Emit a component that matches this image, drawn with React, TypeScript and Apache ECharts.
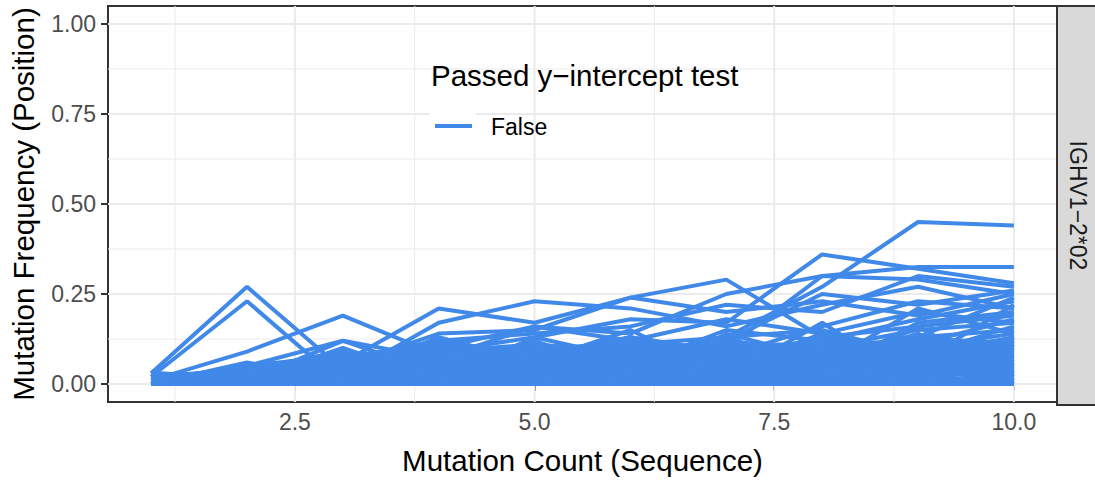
import React, { useEffect, useRef } from "react";
import * as echarts from "echarts";

// Mutation counts (x axis, sequences)
const mutationCounts = [1, 2, 3, 4, 5, 6, 7, 8, 9, 10];

// Per-position mutation frequencies: upper, clearly visible trajectories
const upperPositions: number[][] = [
  [0.03, 0.27, 0.04, 0.02, 0.05, 0.03, 0.02, 0.04, 0.03, 0.05],
  [0.02, 0.23, 0.0, 0.03, 0.02, 0.05, 0.04, 0.02, 0.06, 0.03],
  [0.01, 0.09, 0.19, 0.08, 0.05, 0.1, 0.07, 0.09, 0.12, 0.1],
  [0.0, 0.05, 0.12, 0.07, 0.16, 0.12, 0.18, 0.14, 0.2, 0.17],
  [0.01, 0.03, 0.06, 0.21, 0.17, 0.24, 0.2, 0.23, 0.19, 0.25],
  [0.0, 0.04, 0.02, 0.17, 0.23, 0.21, 0.16, 0.22, 0.27, 0.21],
  [0.01, 0.02, 0.05, 0.14, 0.15, 0.24, 0.29, 0.13, 0.16, 0.19],
  [0.0, 0.01, 0.03, 0.09, 0.13, 0.18, 0.17, 0.36, 0.32, 0.28],
  [0.02, 0.0, 0.04, 0.06, 0.08, 0.11, 0.13, 0.27, 0.45, 0.44],
  [0.0, 0.03, 0.01, 0.05, 0.11, 0.09, 0.1, 0.3, 0.325, 0.325],
  [0.01, 0.05, 0.08, 0.1, 0.16, 0.14, 0.25, 0.3, 0.29, 0.25],
  [0.0, 0.02, 0.07, 0.12, 0.14, 0.16, 0.22, 0.2, 0.3, 0.27],
  [0.0, 0.01, 0.02, 0.04, 0.08, 0.07, 0.12, 0.25, 0.22, 0.26],
  [0.02, 0.04, 0.09, 0.04, 0.06, 0.13, 0.08, 0.16, 0.23, 0.21],
  [0.01, 0.0, 0.03, 0.11, 0.07, 0.05, 0.15, 0.12, 0.18, 0.23],
  [0.0, 0.02, 0.04, 0.02, 0.1, 0.08, 0.06, 0.1, 0.15, 0.17],
  [0.0, 0.03, 0.0, 0.06, 0.03, 0.09, 0.11, 0.08, 0.13, 0.15],
  [0.01, 0.01, 0.05, 0.03, 0.05, 0.06, 0.04, 0.12, 0.1, 0.14],
];

// Per-position mutation frequencies: middle band
const middlePositions: number[][] = [
  [0.0, 0.01, 0.05, 0.09, 0.03, 0.11, 0.06, 0.02, 0.12, 0.05],
  [0.01, 0.03, 0.02, 0.06, 0.1, 0.04, 0.12, 0.09, 0.03, 0.13],
  [0.02, 0.0, 0.07, 0.03, 0.08, 0.13, 0.04, 0.11, 0.09, 0.07],
  [0.0, 0.05, 0.03, 0.11, 0.05, 0.07, 0.1, 0.05, 0.13, 0.11],
  [0.03, 0.02, 0.04, 0.07, 0.11, 0.05, 0.08, 0.12, 0.07, 0.09],
  [0.01, 0.04, 0.09, 0.02, 0.07, 0.12, 0.03, 0.08, 0.11, 0.12],
  [0.0, 0.0, 0.03, 0.08, 0.04, 0.06, 0.11, 0.03, 0.08, 0.06],
  [0.02, 0.03, 0.06, 0.05, 0.12, 0.03, 0.07, 0.1, 0.05, 0.1],
  [0.0, 0.02, 0.01, 0.12, 0.06, 0.09, 0.04, 0.07, 0.1, 0.08],
  [0.01, 0.0, 0.08, 0.04, 0.09, 0.02, 0.09, 0.06, 0.04, 0.11],
  [0.0, 0.04, 0.04, 0.06, 0.03, 0.1, 0.06, 0.09, 0.12, 0.03],
  [0.02, 0.01, 0.02, 0.09, 0.11, 0.08, 0.02, 0.12, 0.06, 0.09],
  [0.01, 0.02, 0.06, 0.01, 0.05, 0.05, 0.1, 0.04, 0.09, 0.12],
  [0.0, 0.05, 0.02, 0.07, 0.08, 0.11, 0.07, 0.13, 0.02, 0.07],
  [0.03, 0.0, 0.05, 0.1, 0.02, 0.04, 0.12, 0.08, 0.11, 0.05],
  [0.0, 0.01, 0.09, 0.05, 0.1, 0.08, 0.05, 0.02, 0.07, 0.1],
  [0.01, 0.03, 0.03, 0.02, 0.07, 0.13, 0.09, 0.06, 0.1, 0.04],
  [0.02, 0.02, 0.0, 0.06, 0.04, 0.02, 0.08, 0.11, 0.04, 0.08],
  [0.0, 0.0, 0.05, 0.04, 0.11, 0.06, 0.03, 0.09, 0.13, 0.02],
  [0.01, 0.04, 0.07, 0.09, 0.01, 0.09, 0.11, 0.05, 0.08, 0.13],
  [0.0, 0.02, 0.03, 0.01, 0.06, 0.03, 0.06, 0.1, 0.05, 0.06],
  [0.02, 0.01, 0.01, 0.05, 0.08, 0.07, 0.13, 0.04, 0.09, 0.1],
  [0.01, 0.0, 0.04, 0.08, 0.02, 0.1, 0.02, 0.07, 0.03, 0.11],
  [0.0, 0.03, 0.06, 0.03, 0.09, 0.01, 0.07, 0.12, 0.1, 0.05],
  [0.03, 0.01, 0.02, 0.07, 0.05, 0.12, 0.04, 0.03, 0.06, 0.09],
  [0.0, 0.02, 0.08, 0.02, 0.03, 0.06, 0.09, 0.08, 0.12, 0.03],
  [0.01, 0.05, 0.01, 0.1, 0.07, 0.04, 0.01, 0.06, 0.02, 0.12],
  [0.0, 0.0, 0.02, 0.04, 0.1, 0.08, 0.1, 0.02, 0.11, 0.07],
  [0.02, 0.03, 0.05, 0.0, 0.04, 0.02, 0.05, 0.13, 0.05, 0.04],
  [0.0, 0.01, 0.0, 0.03, 0.06, 0.11, 0.08, 0.05, 0.01, 0.06],
  [0.01, 0.02, 0.03, 0.06, 0.0, 0.05, 0.03, 0.09, 0.07, 0.02],
];

// Per-position mutation frequencies: dense low band
const lowerPositions: number[][] = [
  [0.0, 0.0, 0.01, 0.0, 0.02, 0.0, 0.01, 0.0, 0.02, 0.01],
  [0.01, 0.0, 0.0, 0.02, 0.0, 0.01, 0.0, 0.02, 0.0, 0.03],
  [0.0, 0.02, 0.0, 0.0, 0.03, 0.02, 0.03, 0.01, 0.04, 0.02],
  [0.02, 0.0, 0.02, 0.01, 0.0, 0.03, 0.02, 0.04, 0.01, 0.05],
  [0.0, 0.01, 0.03, 0.0, 0.01, 0.0, 0.04, 0.03, 0.05, 0.04],
  [0.01, 0.03, 0.0, 0.03, 0.04, 0.01, 0.0, 0.05, 0.03, 0.06],
  [0.0, 0.0, 0.04, 0.05, 0.0, 0.04, 0.05, 0.02, 0.06, 0.07],
  [0.03, 0.01, 0.01, 0.0, 0.05, 0.06, 0.03, 0.0, 0.07, 0.02],
  [0.0, 0.04, 0.02, 0.04, 0.02, 0.02, 0.06, 0.07, 0.0, 0.08],
  [0.01, 0.0, 0.06, 0.02, 0.06, 0.0, 0.01, 0.06, 0.08, 0.09],
  [0.0, 0.05, 0.0, 0.06, 0.01, 0.05, 0.07, 0.03, 0.09, 0.0],
  [0.02, 0.02, 0.01, 0.08, 0.03, 0.03, 0.0, 0.08, 0.04, 0.1],
  [0.0, 0.0, 0.07, 0.01, 0.07, 0.07, 0.08, 0.01, 0.1, 0.04],
  [0.01, 0.01, 0.02, 0.0, 0.09, 0.02, 0.09, 0.09, 0.02, 0.11],
  [0.0, 0.02, 0.08, 0.03, 0.04, 0.08, 0.02, 0.1, 0.11, 0.06],
  [0.03, 0.0, 0.0, 0.07, 0.02, 0.1, 0.1, 0.04, 0.07, 0.12],
  [0.0, 0.03, 0.03, 0.1, 0.0, 0.04, 0.11, 0.11, 0.12, 0.08],
  [0.01, 0.0, 0.01, 0.02, 0.12, 0.01, 0.06, 0.13, 0.05, 0.13],
  [0.02, 0.01, 0.1, 0.01, 0.05, 0.12, 0.03, 0.06, 0.14, 0.0],
  [0.0, 0.02, 0.0, 0.09, 0.01, 0.06, 0.13, 0.15, 0.08, 0.16],
  [0.01, 0.0, 0.05, 0.0, 0.1, 0.11, 0.05, 0.02, 0.16, 0.01],
  [0.0, 0.06, 0.01, 0.05, 0.04, 0.0, 0.14, 0.07, 0.11, 0.18],
  [0.02, 0.0, 0.02, 0.13, 0.06, 0.15, 0.02, 0.17, 0.0, 0.03],
  [0.0, 0.01, 0.12, 0.03, 0.02, 0.03, 0.08, 0.03, 0.17, 0.2],
  [0.01, 0.04, 0.0, 0.01, 0.13, 0.07, 0.04, 0.14, 0.06, 0.22],
  [0.0, 0.0, 0.02, 0.08, 0.0, 0.09, 0.12, 0.0, 0.13, 0.24],
  [0.03, 0.02, 0.0, 0.0, 0.08, 0.02, 0.0, 0.05, 0.21, 0.14],
  [0.0, 0.0, 0.0, 0.0, 0.0, 0.0, 0.0, 0.0, 0.0, 0.0],
  [0.01, 0.01, 0.0, 0.01, 0.01, 0.0, 0.01, 0.01, 0.0, 0.01],
  [0.02, 0.0, 0.01, 0.02, 0.0, 0.02, 0.0, 0.03, 0.02, 0.0],
  [0.0, 0.01, 0.02, 0.0, 0.02, 0.01, 0.02, 0.0, 0.03, 0.04],
  [0.01, 0.02, 0.0, 0.04, 0.01, 0.03, 0.01, 0.04, 0.01, 0.02],
  [0.0, 0.0, 0.01, 0.01, 0.03, 0.0, 0.04, 0.01, 0.03, 0.05],
  [0.01, 0.01, 0.02, 0.0, 0.02, 0.04, 0.01, 0.03, 0.04, 0.01],
  [0.0, 0.02, 0.0, 0.03, 0.01, 0.02, 0.03, 0.0, 0.05, 0.03],
  [0.02, 0.0, 0.03, 0.02, 0.04, 0.01, 0.02, 0.04, 0.02, 0.04],
  [0.0, 0.01, 0.01, 0.04, 0.02, 0.03, 0.0, 0.02, 0.06, 0.02],
  [0.01, 0.0, 0.02, 0.01, 0.05, 0.0, 0.03, 0.05, 0.01, 0.07],
  [0.0, 0.03, 0.04, 0.02, 0.0, 0.05, 0.06, 0.01, 0.04, 0.01],
  [0.02, 0.01, 0.0, 0.05, 0.03, 0.04, 0.02, 0.06, 0.0, 0.03],
  [0.01, 0.02, 0.05, 0.03, 0.06, 0.01, 0.05, 0.03, 0.05, 0.02],
];

const xTickValues = [2.5, 5, 7.5, 10];
const xMinorValues = [1.25, 3.75, 6.25, 8.75];
const yTickValues = [0, 0.25, 0.5, 0.75, 1];
const yMinorValues = [0.125, 0.375, 0.625, 0.875];

const legendTitle = "Passed y\u2212intercept test";
const legendLabel = "False";
const facetLabel = "IGHV1\u22122*02";
const xTitle = "Mutation Count (Sequence)";
const yTitle = "Mutation Frequency (Position)";

const LINE_COLOR = "#4089E9";
const FONT = "'Liberation Sans', Arial, Helvetica, sans-serif";
const TITLE_SIZE = 29.5;
const TICK_SIZE = 23;

export default function App() {
  const ref = useRef<HTMLDivElement>(null);

  useEffect(() => {
    document.body.style.margin = "0";
    if (!ref.current) return;
    const chart = echarts.init(ref.current, undefined, { renderer: "svg" });

    const gridData: any[] = [
      ...xTickValues.map((v) => [v, 0, 0, 1]),
      ...xMinorValues.map((v) => [v, 0, 0, 0]),
      ...yTickValues.map((v) => [1, v, 1, 1]),
      ...yMinorValues.map((v) => [1, v, 1, 0]),
    ];

    const dataSeries = [...upperPositions, ...middlePositions, ...lowerPositions].map((vals) => ({
      name: legendLabel,
      type: "line",
      data: mutationCounts.map((c, i) => [c, vals[i]]),
      symbol: "none",
      showSymbol: false,
      silent: true,
      z: 5,
      lineStyle: { color: LINE_COLOR, width: 4 },
      itemStyle: { color: LINE_COLOR },
    }));

    const option: any = {
      animation: false,
      backgroundColor: "#FFFFFF",
      textStyle: { fontFamily: FONT },
      grid: {
        left: 107,
        right: 38,
        top: 6,
        bottom: 75,
        show: true,
        borderColor: "#333333",
        borderWidth: 2,
        backgroundColor: "transparent",
      },
      xAxis: {
        type: "value",
        min: 0.55,
        max: 10.45,
        splitLine: { show: false },
        axisLine: { show: false },
        axisTick: {
          show: true,
          customValues: xTickValues,
          length: 7,
          lineStyle: { color: "#333333", width: 2 },
        },
        axisLabel: {
          customValues: xTickValues,
          formatter: (v: number) => v.toFixed(1),
          fontSize: TICK_SIZE,
          color: "#4D4D4D",
          margin: 8,
          fontFamily: FONT,
        },
        name: xTitle,
        nameLocation: "middle",
        nameGap: 43,
        nameTextStyle: { fontSize: TITLE_SIZE, color: "#000000", fontFamily: FONT },
      },
      yAxis: {
        type: "value",
        min: -0.05,
        max: 1.05,
        splitLine: { show: false },
        axisLine: { show: false },
        axisTick: {
          show: true,
          customValues: yTickValues,
          length: 7,
          lineStyle: { color: "#333333", width: 2 },
        },
        axisLabel: {
          customValues: yTickValues,
          formatter: (v: number) => v.toFixed(2),
          fontSize: TICK_SIZE,
          color: "#4D4D4D",
          margin: 12,
          fontFamily: FONT,
        },
        name: yTitle,
        nameLocation: "middle",
        nameRotate: 90,
        nameGap: 70,
        nameTextStyle: { fontSize: TITLE_SIZE, color: "#000000", fontFamily: FONT },
      },
      series: [
        {
          type: "custom",
          silent: true,
          z: 1,
          clip: true,
          data: gridData,
          renderItem: (params: any, api: any) => {
            const cs = params.coordSys;
            const isH = api.value(2) === 1;
            const major = api.value(3) === 1;
            const p = api.coord([api.value(0), api.value(1)]);
            const shape = isH
              ? { x1: cs.x, y1: p[1], x2: cs.x + cs.width, y2: p[1] }
              : { x1: p[0], y1: cs.y, x2: p[0], y2: cs.y + cs.height };
            return {
              type: "line",
              shape,
              style: { stroke: "#EBEBEB", lineWidth: major ? 2 : 1 },
            };
          },
        },
        ...dataSeries,
      ],
      graphic: [
        {
          type: "rect",
          shape: { x: 1057, y: 6, width: 46, height: 399 },
          style: { fill: "#D9D9D9", stroke: "#333333", lineWidth: 2 },
          z: 10,
        },
        {
          type: "text",
          x: 1078,
          y: 205.5,
          rotation: -Math.PI / 2,
          style: {
            text: facetLabel,
            fontSize: TICK_SIZE,
            fontFamily: FONT,
            fill: "#1A1A1A",
            align: "center",
            verticalAlign: "middle",
          },
          z: 11,
        },
        {
          type: "text",
          x: 431,
          y: 75,
          style: {
            text: legendTitle,
            fontSize: TITLE_SIZE,
            fontFamily: FONT,
            fill: "#000000",
            align: "left",
            verticalAlign: "middle",
          },
          z: 10,
        },
        {
          type: "rect",
          shape: { x: 430, y: 104, width: 46, height: 44 },
          style: { fill: "#FFFFFF" },
          z: 10,
        },
        {
          type: "line",
          shape: { x1: 435, y1: 126, x2: 472, y2: 126 },
          style: { stroke: LINE_COLOR, lineWidth: 4 },
          z: 11,
        },
        {
          type: "text",
          x: 491,
          y: 127,
          style: {
            text: legendLabel,
            fontSize: TICK_SIZE,
            fontFamily: FONT,
            fill: "#000000",
            align: "left",
            verticalAlign: "middle",
          },
          z: 11,
        },
      ],
    };

    chart.setOption(option);
    return () => chart.dispose();
  }, []);

  return <div ref={ref} style={{ width: 1095, height: 480 }} />;
}
